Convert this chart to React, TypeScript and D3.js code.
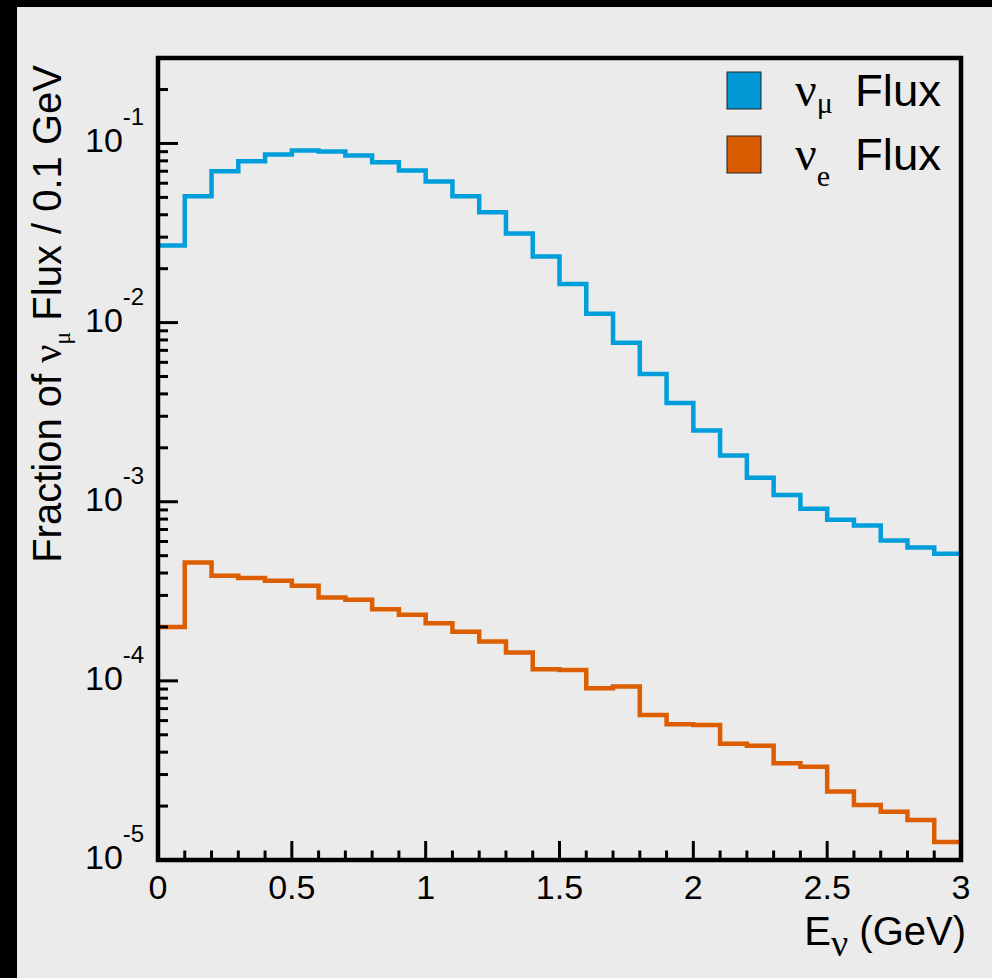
import React from "react";
import * as d3 from "d3";

const binEdgesStart = 0;
const binWidth = 0.1;
const numuFlux = [
  0.0269, 0.0508, 0.070, 0.0796, 0.0868, 0.0913, 0.0902, 0.0857, 0.0786, 0.0706,
  0.0614, 0.0508, 0.0413, 0.0314, 0.0234, 0.0164, 0.0112, 0.00771, 0.00517, 0.00356,
  0.0025, 0.00181, 0.00136, 0.00109, 0.000914, 0.000793, 0.000737, 0.000608, 0.000555, 0.000512,
];
const nueFlux = [
  2.0e-4, 4.58e-4, 3.86e-4, 3.75e-4, 3.62e-4, 3.40e-4, 2.92e-4, 2.84e-4, 2.51e-4, 2.34e-4,
  2.10e-4, 1.88e-4, 1.66e-4, 1.44e-4, 1.16e-4, 1.15e-4, 9.1e-5, 9.3e-5, 6.45e-5, 5.73e-5,
  5.67e-5, 4.45e-5, 4.35e-5, 3.47e-5, 3.32e-5, 2.41e-5, 2.03e-5, 1.86e-5, 1.67e-5, 1.26e-5,
];
const xMajorTicks = [0, 0.5, 1, 1.5, 2, 2.5, 3];
const xTickLabels = ["0", "0.5", "1", "1.5", "2", "2.5", "3"];
const yDecades = [1e-5, 1e-4, 1e-3, 1e-2, 1e-1];
const yExponents = ["-5", "-4", "-3", "-2", "-1"];

const BLUE = "#009fdb";
const ORANGE = "#dc5e00";
const SANS = "'Liberation Sans', Arial, Helvetica, sans-serif";
const SERIF = "'Liberation Serif', 'Times New Roman', serif";

export default function App() {
  const W = 992, H = 978;
  const x = d3.scaleLinear().domain([0, 3]).range([158, 961]);
  const y = d3.scaleLog().domain([1e-5, 0.3]).range([860, 58]);

  const stepPath = (vals: number[]) => {
    const pts: [number, number][] = vals.map((v, i) => [binEdgesStart + i * binWidth, v]);
    pts.push([binEdgesStart + vals.length * binWidth, vals[vals.length - 1]]);
    return d3
      .line<[number, number]>()
      .x((d) => x(d[0]))
      .y((d) => y(d[1]))
      .curve(d3.curveStepAfter)(pts) as string;
  };

  const xMinor = d3.range(0, 31).map((i) => i / 10);
  const yMinor: number[] = [];
  for (let e = -5; e <= -1; e++) {
    for (let m = 2; m <= 9; m++) {
      const v = m * Math.pow(10, e);
      if (v <= 0.3 + 1e-9) yMinor.push(v);
    }
  }

  const [x0, x1] = x.range();
  const [yb, yt] = y.range();

  return (
    <svg
      width={W}
      height={H}
      style={{ position: "absolute", left: 0, top: 0, display: "block" }}
      xmlns="http://www.w3.org/2000/svg"
    >
      <rect x={0} y={0} width={W} height={H} fill="#000" />
      <rect x={17} y={7} width={W - 17} height={H - 7} fill="#ebebeb" />

      {/* histograms */}
      <path d={stepPath(numuFlux)} fill="none" stroke={BLUE} strokeWidth={4.5} />
      <path d={stepPath(nueFlux)} fill="none" stroke={ORANGE} strokeWidth={4.5} />

      {/* x ticks */}
      {xMinor.map((v, i) => {
        const major = i % 5 === 0;
        return (
          <line
            key={"xt" + i}
            x1={x(v)}
            x2={x(v)}
            y1={yb}
            y2={yb - (major ? 19 : 9.5)}
            stroke="#000"
            strokeWidth={3}
          />
        );
      })}
      {/* y ticks */}
      {yDecades.map((v, i) => (
        <line key={"yM" + i} x1={x0} x2={x0 + 20} y1={y(v)} y2={y(v)} stroke="#000" strokeWidth={3} />
      ))}
      {yMinor.map((v, i) => (
        <line key={"ym" + i} x1={x0} x2={x0 + 10} y1={y(v)} y2={y(v)} stroke="#000" strokeWidth={3} />
      ))}

      {/* frame */}
      <rect x={x0} y={yt} width={x1 - x0} height={yb - yt} fill="none" stroke="#000" strokeWidth={4.5} />

      {/* x tick labels */}
      {xMajorTicks.map((v, i) => (
        <text
          key={"xl" + i}
          x={x(v)}
          y={899}
          textAnchor="middle"
          fontFamily={SANS}
          fontSize={34}
          fill="#000"
        >
          {xTickLabels[i]}
        </text>
      ))}

      {/* y tick labels */}
      {yDecades.map((v, i) => (
        <text key={"yl" + i} x={85} y={y(v) + 9} fontFamily={SANS} fontSize={34} fill="#000">
          10
          <tspan dy={-27} fontSize={24}>
            {yExponents[i]}
          </tspan>
        </text>
      ))}

      {/* x title */}
      <text x={966} y={945} textAnchor="end" fontFamily={SANS} fontSize={40} fill="#000">
        E
        <tspan fontFamily={SERIF} fontSize={38} dy={11}>
          ν
        </tspan>
        <tspan dy={-11}> (GeV)</tspan>
      </text>

      {/* y title */}
      <text
        transform="translate(61,65) rotate(-90)"
        textAnchor="end"
        fontFamily={SANS}
        fontSize={40}
        fill="#000"
      >
        Fraction of{" "}
        <tspan fontFamily={SERIF} fontSize={40}>ν</tspan>
        <tspan fontFamily={SERIF} fontSize={24} dy={9}>μ</tspan>
        <tspan dy={-9}> Flux / 0.1 GeV</tspan>
      </text>

      {/* legend */}
      <rect x={727} y={72} width={34} height={37} fill="#0099d6" stroke="#222" strokeWidth={1} />
      <rect x={727} y={136} width={34} height={37} fill="#d95b00" stroke="#222" strokeWidth={1} />
      <text x={795} y={106} fontFamily={SERIF} fontSize={48} fill="#000">
        ν
        <tspan fontSize={30} dy={7}>μ</tspan>
      </text>
      <text x={855} y={106} fontFamily={SANS} fontSize={45} fill="#000" textLength={86} lengthAdjust="spacingAndGlyphs">
        Flux
      </text>
      <text x={795} y={170} fontFamily={SERIF} fontSize={48} fill="#000">
        ν
        <tspan fontSize={30} dy={16}>e</tspan>
      </text>
      <text x={855} y={170} fontFamily={SANS} fontSize={45} fill="#000" textLength={86} lengthAdjust="spacingAndGlyphs">
        Flux
      </text>
    </svg>
  );
}
